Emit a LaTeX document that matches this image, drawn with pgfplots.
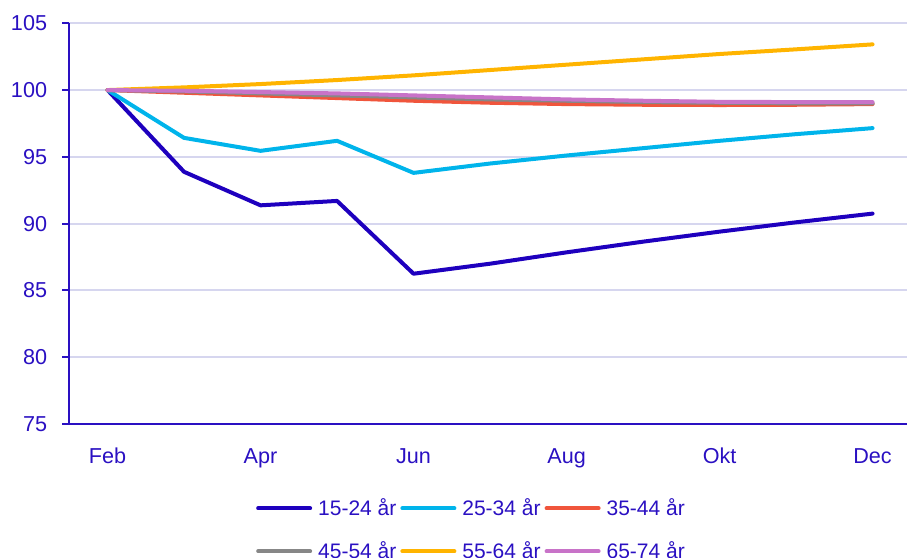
\documentclass[border=0pt]{standalone}
\usepackage{pgfplots}
\pgfplotsset{compat=1.18}
\usepackage{fontspec}
\setmainfont{Liberation Sans}
\definecolor{txt}{HTML}{2A10C2}
\definecolor{gridc}{HTML}{D6D6EF}
\definecolor{cA}{HTML}{1E00BE}
\definecolor{cB}{HTML}{00B4EB}
\definecolor{cC}{HTML}{F0553C}
\definecolor{cD}{HTML}{878787}
\definecolor{cE}{HTML}{FFB400}
\definecolor{cF}{HTML}{C873C8}
\begin{document}
\begin{tikzpicture}
\path[use as bounding box] (-34.65pt,-67pt) rectangle (418.85pt,211.99pt);
\begin{axis}[
  at={(0,0)}, anchor=south west,
  scale only axis, width=418.85pt, height=200.35pt,
  xmin=-0.5, xmax=10.45, ymin=75, ymax=105,
  axis x line*=bottom, axis y line*=left,
  axis line style={txt, line width=1pt, -},
  xtick={0,...,10},
  xticklabels={Feb,,Apr,,Jun,,Aug,,Okt,,Dec},
  minor xtick={-0.5,0.5,...,9.5},
  ytick={75,80,...,105},
  tick align=outside,
  major tick length=3.6pt, minor tick length=3.6pt,
  xtick style={draw=none},
  minor x tick style={txt, line width=1pt},
  ytick style={txt, line width=1pt},
  ymajorgrids, major grid style={gridc, line width=1pt},
  ticklabel style={font=\fontsize{10.8}{12}\selectfont, text=txt},
  /pgf/number format/assume math mode=true,
  xticklabel style={yshift=-5pt},
  yticklabel style={xshift=-4pt},
  clip=false,
  legend columns=3,
  legend style={at={(200.6pt,-35pt)}, anchor=north, draw=none, fill=none,
    font=\fontsize{10.5}{12}\selectfont, text=txt,
    row sep=11.5pt,
    /tikz/every odd column/.append style={column sep=3pt},
    /tikz/every even column/.append style={column sep=2pt},
    nodes={inner sep=0pt}},
  legend cell align=left,
  legend image code/.code={\draw[#1, line width=2pt, line cap=round] (0pt,0pt) -- (26pt,0pt);},
  every axis plot/.append style={line width=2pt, line join=round, line cap=round},
]
\addplot[cA] coordinates {(0,100) (1,93.88) (2,91.37) (3,91.7) (4,86.25) (5,87.0) (6,87.85) (7,88.65) (8,89.4) (9,90.1) (10,90.75)};
\addlegendentry{15-24 år}
\addplot[cB] coordinates {(0,100) (1,96.42) (2,95.45) (3,96.2) (4,93.8) (5,94.5) (6,95.1) (7,95.65) (8,96.2) (9,96.7) (10,97.15)};
\addlegendentry{25-34 år}
\addplot[cC] coordinates {(0,100) (1,99.8) (2,99.6) (3,99.4) (4,99.2) (5,99.05) (6,98.95) (7,98.9) (8,98.88) (9,98.9) (10,98.95)};
\addlegendentry{35-44 år}
\addplot[cD] coordinates {(0,100) (1,99.9) (2,99.75) (3,99.6) (4,99.45) (5,99.3) (6,99.2) (7,99.1) (8,99.05) (9,99.0) (10,99.0)};
\addlegendentry{45-54 år}
\addplot[cE] coordinates {(0,100) (1,100.2) (2,100.45) (3,100.75) (4,101.1) (5,101.5) (6,101.9) (7,102.3) (8,102.7) (9,103.05) (10,103.42)};
\addlegendentry{55-64 år}
\addplot[cF] coordinates {(0,100) (1,99.95) (2,99.85) (3,99.75) (4,99.6) (5,99.45) (6,99.3) (7,99.2) (8,99.12) (9,99.1) (10,99.1)};
\addlegendentry{65-74 år}
\end{axis}
\end{tikzpicture}
\end{document}
